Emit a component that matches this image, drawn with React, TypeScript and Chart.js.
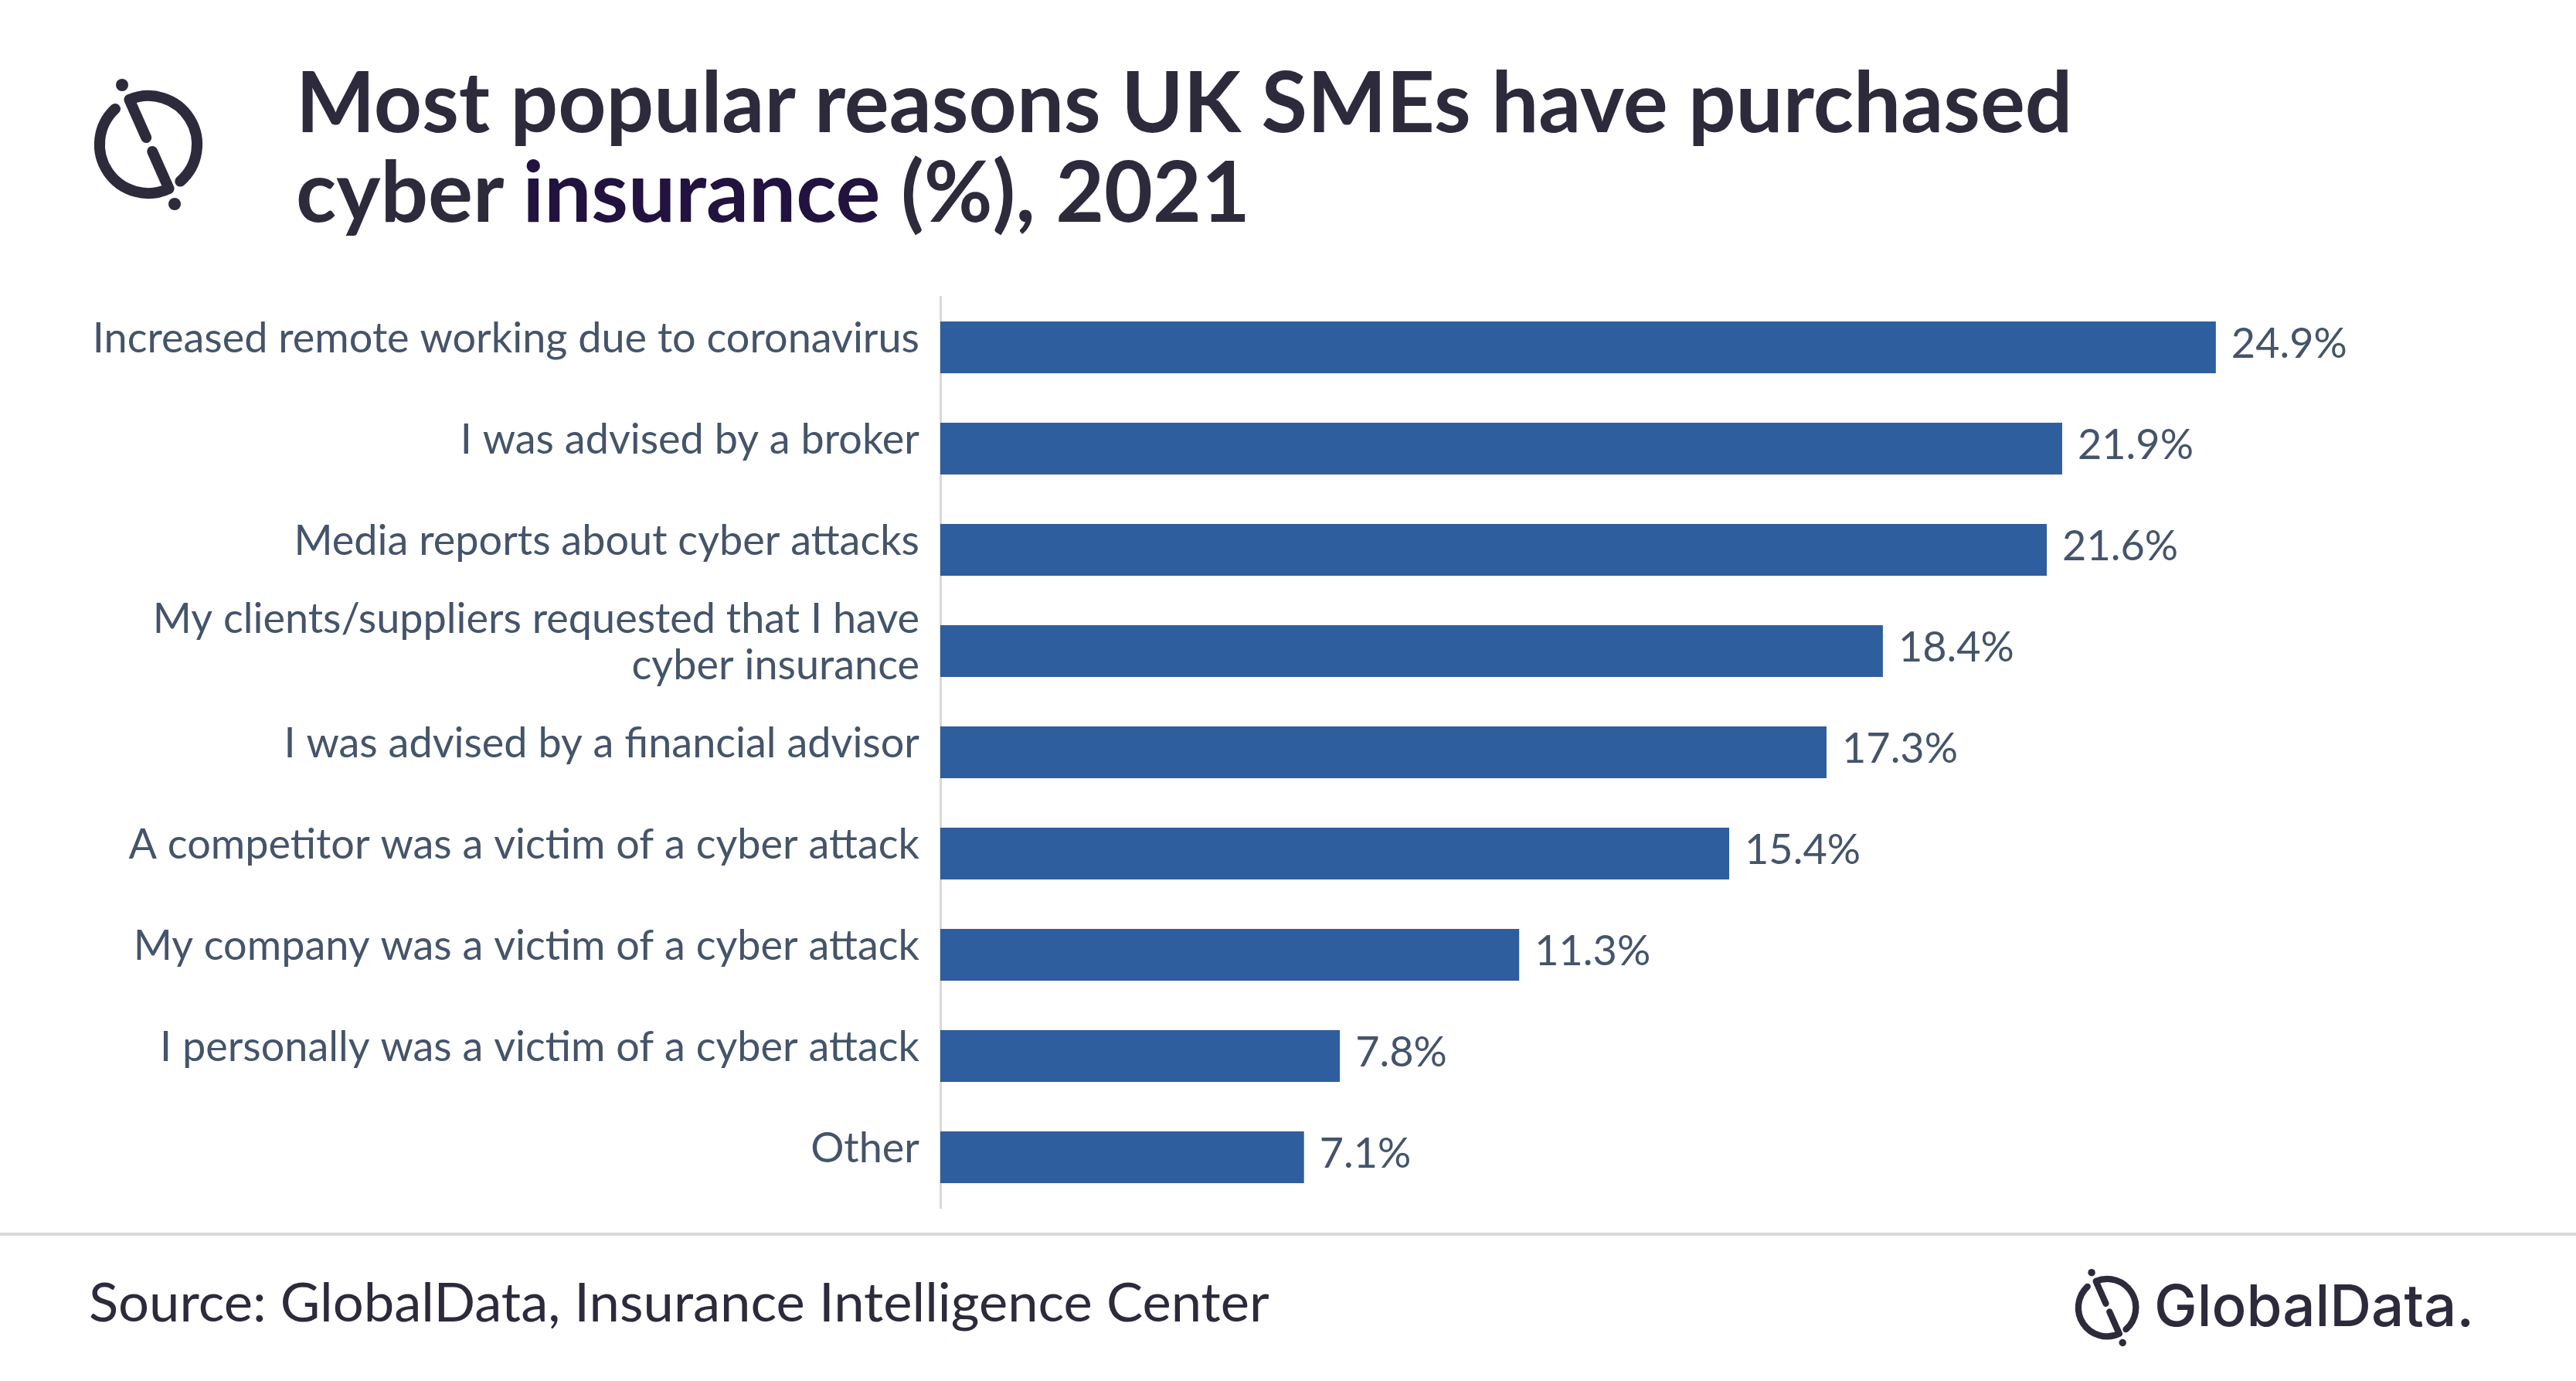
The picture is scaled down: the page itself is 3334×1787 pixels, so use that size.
import React, { useEffect, useRef } from "react";
import { Chart, registerables } from "chart.js";

Chart.register(...registerables);

const categories: (string | string[])[] = [
  "Increased remote working due to coronavirus",
  "I was advised by a broker",
  "Media reports about cyber attacks",
  ["My clients/suppliers requested that I have", "cyber insurance"],
  "I was advised by a financial advisor",
  "A competitor was a victim of a cyber attack",
  "My company was a victim of a cyber attack",
  "I personally was a victim of a cyber attack",
  "Other",
];

const values: number[] = [24.9, 21.9, 21.6, 18.4, 17.3, 15.4, 11.3, 7.8, 7.1];

const W = 3334;
const H = 1787;
const DARK = "#2d2a3c";
const LABEL = "#44546a";
const BAR = "#2f5e9e";

const valueLabels = {
  id: "valueLabels",
  afterDatasetsDraw(chart: any) {
    const ctx = chart.ctx;
    const meta = chart.getDatasetMeta(0);
    ctx.save();
    ctx.font = "54px Lato";
    ctx.fillStyle = LABEL;
    ctx.textAlign = "left";
    ctx.textBaseline = "alphabetic";
    meta.data.forEach((bar: any, i: number) => {
      const v = chart.data.datasets[0].data[i] as number;
      ctx.fillText(v.toFixed(1) + "%", bar.x + 20, bar.y + 13.5);
    });
    ctx.restore();
  },
};

function Icon({ left, top, scale }: { left: number; top: number; scale: number }) {
  return (
    <svg
      width={170 * scale}
      height={180 * scale}
      viewBox="-85 -90 170 180"
      style={{ position: "absolute", left, top }}
    >
      <g fill="none" stroke={DARK} strokeWidth={14} strokeLinecap="round" strokeLinejoin="round">
        <path d="M -2.8 -9 L -24.6 -58 A 63 63 0 0 1 41.3 47.6" />
        <path d="M 5.2 9 L 26.6 57.1 A 63 63 0 0 1 -43 -46.1" />
      </g>
      <circle cx={-34} cy={-77} r={8} fill={DARK} />
      <circle cx={34} cy={77} r={8} fill={DARK} />
    </svg>
  );
}

export default function App() {
  const canvasRef = useRef<HTMLCanvasElement | null>(null);

  useEffect(() => {
    document.body.style.margin = "0";
    const canvas = canvasRef.current;
    if (!canvas) return;
    const chart = new Chart(canvas, {
      type: "bar",
      data: {
        labels: categories as any,
        datasets: [
          {
            data: values,
            backgroundColor: BAR,
            borderWidth: 0,
            barPercentage: 0.511,
            categoryPercentage: 1,
          },
        ],
      },
      options: {
        indexAxis: "y",
        responsive: false,
        animation: false,
        devicePixelRatio: 1,
        layout: { padding: { top: 384, bottom: 224, right: 128, left: 0 } },
        plugins: {
          legend: { display: false },
          title: { display: false },
          tooltip: { enabled: false },
        },
        scales: {
          x: { display: false, min: 0, max: 30 },
          y: {
            position: "left",
            afterFit: (s: any) => {
              s.width = 1217;
            },
            grid: { display: false },
            border: { display: true, color: "#d9d9d9", width: 3 },
            ticks: {
              autoSkip: false,
              color: LABEL,
              padding: 19,
              labelOffset: -11,
              font: { family: "Lato", size: 54, lineHeight: 1.12 },
            },
          },
        },
      },
      plugins: [valueLabels],
    });
    return () => chart.destroy();
  }, []);

  return (
    <div
      style={{
        position: "absolute",
        left: 0,
        top: 0,
        width: W,
        height: H,
        overflow: "hidden",
        background: "#ffffff",
      }}
    >
      <canvas
        ref={canvasRef}
        width={W}
        height={H}
        style={{ position: "absolute", left: 0, top: 0, width: W, height: H }}
      />
      <Icon left={107} top={97} scale={1} />
      <div
        style={{
          position: "absolute",
          left: 383,
          top: 71,
          fontFamily: "Lato",
          fontWeight: 700,
          fontSize: 108.5,
          lineHeight: "116px",
          color: DARK,
          whiteSpace: "nowrap",
        }}
      >
        Most popular reasons UK SMEs have purchased
        <br />
        cyber <span style={{ color: "#22123f" }}>insurance</span> (%), 2021
      </div>
      <div
        style={{
          position: "absolute",
          left: 0,
          top: 1595,
          width: W,
          height: 4,
          background: "#d9d9d9",
        }}
      />
      <div
        style={{
          position: "absolute",
          left: 115,
          top: 1648,
          fontFamily: "Lato",
          fontSize: 70.6,
          lineHeight: "70px",
          color: DARK,
          whiteSpace: "nowrap",
        }}
      >
        Source: GlobalData, Insurance Intelligence Center
      </div>
      <Icon left={2677} top={1639} scale={0.59} />
      <div
        style={{
          position: "absolute",
          left: 2788,
          top: 1652,
          fontFamily: "Inter",
          fontWeight: 500,
          fontSize: 74.5,
          lineHeight: "74px",
          color: DARK,
          whiteSpace: "nowrap",
        }}
      >
        GlobalData.
      </div>
    </div>
  );
}
